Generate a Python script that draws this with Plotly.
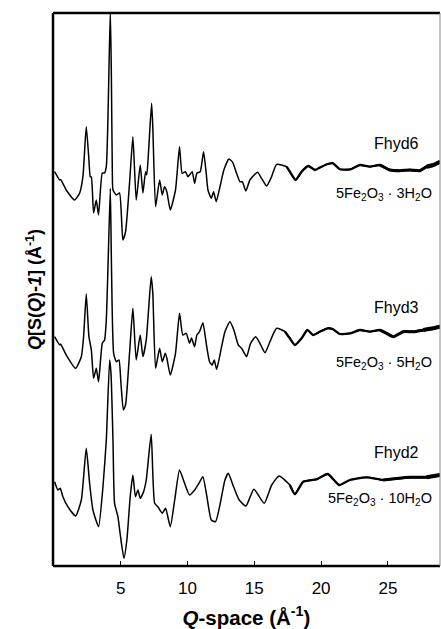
import plotly.graph_objects as go

# ---- data (arbitrary units, relative to each curve baseline) ----
q_fhyd6 = [0.05, 0.43, 0.5, 0.92, 1.55, 1.92, 2.17, 2.42, 2.62, 2.72, 2.8, 2.97, 3.17, 3.34,
           3.62, 3.79, 3.92, 4.04, 4.22, 4.3, 4.37, 4.42, 4.67, 4.91, 5.16, 5.36, 5.66, 5.91,
           6.16, 6.46, 6.66, 6.86, 6.95, 7.09, 7.31, 7.4, 7.61, 7.91, 8.11, 8.28, 8.45, 8.71,
           9.1, 9.4, 9.6, 9.85, 10.03, 10.15, 10.35, 10.53, 10.7, 10.95, 11.2, 11.4, 11.53,
           11.78, 11.95, 12.15, 12.43, 12.72, 13.1, 13.38, 13.67, 13.92, 14.1, 14.37, 14.67,
           15.24, 15.54, 15.92, 16.29, 16.67, 17.41, 17.66, 18.09, 18.54, 19.04, 19.54, 20.04,
           20.5, 20.9, 21.4, 22.2, 22.9, 23.65, 24.4, 25.15, 25.9, 26.65, 27.4, 27.9, 28.4, 28.9]
v_fhyd6 = [-3.7, -12, -11.5, -22, -32, -25.3, -8.7, 41.3, 8, -8.7, -9, -45, -32, -47,
           -5, -5, 1.3, 48, 158, 91.3, -2, -22, -27, -25, -72, -63.7, -15, 31.3,
           -32, 3, -25, -3.7, -7, 18, 64.7, 41.3, -38.7, -12, -27, -18.7, -23.7, -42,
           -22, 21.3, -5.3, -3.7, -8.7, -7, -3.7, -15.3, -5.3, -3.7, 16.3, -5.3, -22,
           -30.3, -23.7, -33.7, -18.7, -2, 9, 5.7, -5.3, -13.7, -13.7, -23, -12,
           -4.3, -10.3, -18, -8.7, 3.7, 1.3, -3.7, -12, -3.7, 2, -2, 1.3,
           4, 4.7, -1.3, -1.3, 3, 1.3, 3, -2, -2.7, -2, -2.7, 1.3, 3, 6.3]

q_fhyd3 = [0.05, 0.43, 0.5, 0.92, 1.62, 2.05, 2.22, 2.42, 2.62, 2.8, 2.97, 3.17, 3.34, 3.62,
           3.79, 3.92, 4.04, 4.22, 4.3, 4.47, 4.67, 4.87, 5.0, 5.2, 5.36, 5.66, 5.91, 6.16,
           6.46, 6.66, 6.91, 7.28, 7.4, 7.61, 7.91, 8.11, 8.33, 8.45, 8.71, 9.1, 9.4, 9.65,
           9.9, 10.15, 10.3, 10.53, 10.7, 10.9, 11.15, 11.4, 11.65, 11.85, 12.0, 12.18, 12.55,
           12.8, 13.17, 13.47, 13.8, 14.05, 14.42, 14.72, 15.1, 15.42, 15.8, 16.17, 16.67,
           17.3, 17.66, 18.04, 18.54, 18.97, 19.4, 19.9, 20.5, 20.9, 21.4, 22.2, 22.9, 23.65,
           24.4, 24.9, 25.4, 26.15, 26.9, 27.65, 28.4, 28.9]
v_fhyd3 = [-3.7, -12, -11, -22, -35.3, -23.7, -3.7, 39, -3.7, -17, -45.3, -35.3, -48.7, -10.3,
           -7, 13, 63, 144.7, 73, -20.3, -28.7, -27, -47, -77, -72, -20, 24.7, -27,
           -2, -23.7, -7, 56.3, 40, -35.3, -15.3, -28.7, -20.3, -25, -42, -20.3, 19.7, -2,
           -0.3, -10.3, -5, -13.7, -2, 1.3, 10.3, -10.3, -28.7, -32, -27, -36.3, -13.7,
           1.3, 11.3, 3, -12, -15.3, -23.7, -10.3, -3.7, -10.3, -19.7, -8.7, 4.7,
           1.3, -5.3, -12, -5.3, 3, -2, 1.3, 4.7, 3.7, -1, -0.3, 3, 1.3,
           3, -0.3, -3.7, 1.3, 1.3, 3, 4.7, 6.3]

q_fhyd2 = [0.05, 0.3, 0.47, 0.67, 1.04, 1.62, 2.05, 2.42, 2.67, 2.92, 3.34, 3.67, 3.92, 4.17,
           4.27, 4.42, 4.54, 4.79, 4.95, 5.24, 5.46, 5.71, 5.91, 6.1, 6.29, 6.46, 6.71, 6.91,
           7.28, 7.54, 7.78, 8.11, 8.36, 8.71, 9.04, 9.4, 9.78, 10.15, 10.53, 10.85, 11.15,
           11.45, 11.78, 12.1, 12.5, 12.8, 13.05, 13.4, 13.87, 14.37, 14.97, 15.74, 16.3,
           16.86, 17.66, 18.04, 18.66, 19.66, 20.5, 21.35, 22.15, 23.4, 24.65, 25.65, 26.65,
           27.9, 28.9]
v_fhyd2 = [-3.7, -12, -10.3, -18.7, -28.7, -38, -22, 29.7, -5.3, -32, -48.7, -8.7, 38, 118,
           105, 38, -25.3, -38.7, -55, -80.3, -62, -18.7, 3, -18.7, -12, -20.3, -13.7, -2,
           43.7, -25.3, -28.7, -35.3, -30.3, -48.7, -22, 8, -5.3, -17, -12, -5.3, 1.3,
           -18.7, -42, -43.7, -22, -2, 4.7, -7, -22, -28, -11.3, -25.3, -7,
           2, -7, -16.3, -3.7, -1.3, 4, -7, -2, 0.7, -2, -0.5, 0.7,
           0.7, 3]

sample_names = ["Fhyd6", "Fhyd3", "Fhyd2"]
formulas = ["5Fe<sub>2</sub>O<sub>3</sub> · 3H<sub>2</sub>O",
            "5Fe<sub>2</sub>O<sub>3</sub> · 5H<sub>2</sub>O",
            "5Fe<sub>2</sub>O<sub>3</sub> · 10H<sub>2</sub>O"]
offsets = [398, 233, 88]          # vertical stacking offsets
x_ticks = [5, 10, 15, 20, 25]

series = [(q_fhyd6, v_fhyd6), (q_fhyd3, v_fhyd3), (q_fhyd2, v_fhyd2)]

FONT = "Liberation Sans, Arial, Helvetica, sans-serif"
fig = go.Figure()

for (q, v), off, name in zip(series, offsets, sample_names):
    y = [val + off for val in v]
    fig.add_trace(go.Scatter(x=q, y=y, mode="lines", name=name,
                             line=dict(color="black", width=1.5, shape="spline", smoothing=0.5),
                             showlegend=False, hoverinfo="skip"))
    # noisier high-Q part drawn heavier
    for qmin, w in [(17.0, 2.3), (24.0, 3.0), (27.5, 4.0)]:
        qs = [a for a in q if a >= qmin]
        ys = [b + off for a, b in zip(q, v) if a >= qmin]
        fig.add_trace(go.Scatter(x=qs, y=ys, mode="lines",
                                 line=dict(color="black", width=w, shape="spline", smoothing=0.5),
                                 showlegend=False, hoverinfo="skip"))

# labels
name_y = [423, 259, 114]
form_y = [372, 203, 67]
for n, f, ny, fy in zip(sample_names, formulas, name_y, form_y):
    fig.add_annotation(x=27.5, y=ny, xref="x", yref="y", text=n, showarrow=False,
                       xanchor="right", yanchor="middle",
                       font=dict(family=FONT, size=16, color="black"))
    fig.add_annotation(x=28.45, y=fy, xref="x", yref="y", text=f, showarrow=False,
                       xanchor="right", yanchor="middle",
                       font=dict(family=FONT, size=14.5, color="black"))

# frame
fig.add_shape(type="line", xref="paper", yref="paper", x0=0, x1=0, y0=0, y1=1,
              line=dict(color="black", width=2.5))
fig.add_shape(type="line", xref="paper", yref="paper", x0=0, x1=1, y0=1, y1=1,
              line=dict(color="black", width=2.5))
fig.add_shape(type="line", xref="paper", yref="paper", x0=0, x1=1, y0=0, y1=0,
              line=dict(color="black", width=2.5))
fig.add_shape(type="line", xref="paper", yref="paper", x0=1, x1=1, y0=0, y1=1,
              line=dict(color="#888888", width=1))

fig.update_layout(
    width=441, height=629,
    margin=dict(l=53, r=1, t=13, b=63),
    paper_bgcolor="white", plot_bgcolor="white",
    font=dict(family=FONT, color="black"),
    xaxis=dict(range=[-0.07, 28.9], tickvals=x_ticks, ticks="inside", ticklen=5,
               tickwidth=1.2, tickcolor="black", showgrid=False, zeroline=False,
               showline=False, ticklabelstandoff=10,
               tickfont=dict(family=FONT, size=17, color="black"),
               title=dict(text="<b><i>Q</i>-space (Å<sup>-1</sup>)</b>",
                          font=dict(family=FONT, size=20.5, color="black"), standoff=13)),
    yaxis=dict(range=[0, 553], showticklabels=False, ticks="", showgrid=False,
               zeroline=False, showline=False,
               title=dict(text="<b><i>Q</i>[S(<i>Q</i>)-<i>1</i>] (Å<sup>-1</sup>)</b>",
                          font=dict(family=FONT, size=18, color="black"), standoff=5)),
)

fig.write_html("out.html", post_script="document.body.style.margin='0px';",
               config={"displayModeBar": False})
